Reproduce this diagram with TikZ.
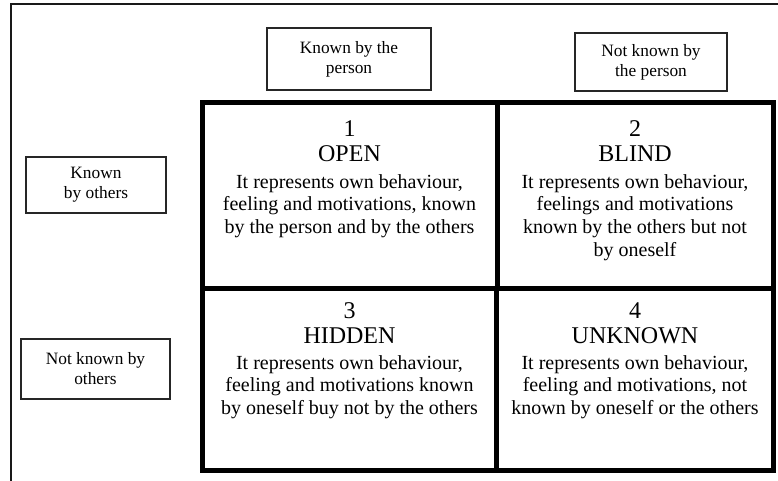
\documentclass[tikz,border=0pt]{standalone}
\usepackage{fontspec}
\setmainfont{Liberation Serif}
\usetikzlibrary{fit}
\begin{document}
\begin{tikzpicture}[x=0.75pt,y=-0.75pt,
  frame/.style={draw=black!90, line width=1.1pt},
  cell/.style={draw=black, line width=3.75pt, inner sep=0pt},
  lbl/.style={draw=black!85, line width=1.1pt, align=center, inner sep=0pt,
    font=\fontsize{13}{15}\selectfont},
  numtxt/.style={anchor=base, inner sep=0pt, font=\fontsize{18}{20}\selectfont},
  bodytxt/.style={anchor=north, inner sep=0pt, align=center, font=\fontsize{15}{17}\selectfont}
]
\useasboundingbox (0,0) rectangle (778,480);
\clip (0,0) rectangle (778,480);
\draw[frame] (11,4) rectangle (820,520);

% labels
\node[lbl, minimum width=164*0.75pt, minimum height=62*0.75pt] (kp) at (349,59) {Known by the\\person};
\node[lbl, minimum width=152*0.75pt, minimum height=58*0.75pt] (nkp) at (651,62) {Not known by\\the person};
\node[lbl, minimum width=140*0.75pt, minimum height=56*0.75pt] (ko) at (96,185) {Known\\by others};
\node[lbl, minimum width=149*0.75pt, minimum height=60*0.75pt] (nko) at (95.5,369) {Not known by\\others};

% cells
\node[cell, fit={(202,102.5) (497,288)}] (c1) {};
\node[cell, fit={(497,102.5) (773.5,288)}] (c2) {};
\node[cell, fit={(202,288) (496,470.5)}] (c3) {};
\node[cell, fit={(496,288) (773.5,470.5)}] (c4) {};

% cell 1
\node[numtxt] (n1) at (349.5,136) {1};
\node[numtxt] (t1) at (349.5,161) {OPEN};
\node[bodytxt] (b1) at (349.5,174) {It represents own behaviour,\\feeling and motivations, known\\by the person and by the others};
% cell 2
\node[numtxt] (n2) at (635,136) {2};
\node[numtxt] (t2) at (635,161) {BLIND};
\node[bodytxt] (b2) at (635,174) {It represents own behaviour,\\feelings and motivations\\known by the others but not\\by oneself};
% cell 3
\node[numtxt] (n3) at (349.5,318) {3};
\node[numtxt] (t3) at (349.5,343) {HIDDEN};
\node[bodytxt] (b3) at (349.5,355) {It represents own behaviour,\\feeling and motivations known\\by oneself buy not by the others};
% cell 4
\node[numtxt] (n4) at (635,318) {4};
\node[numtxt] (t4) at (635,343) {UNKNOWN};
\node[bodytxt] (b4) at (635,355) {It represents own behaviour,\\feeling and motivations, not\\known by oneself or the others};
\end{tikzpicture}
\end{document}
